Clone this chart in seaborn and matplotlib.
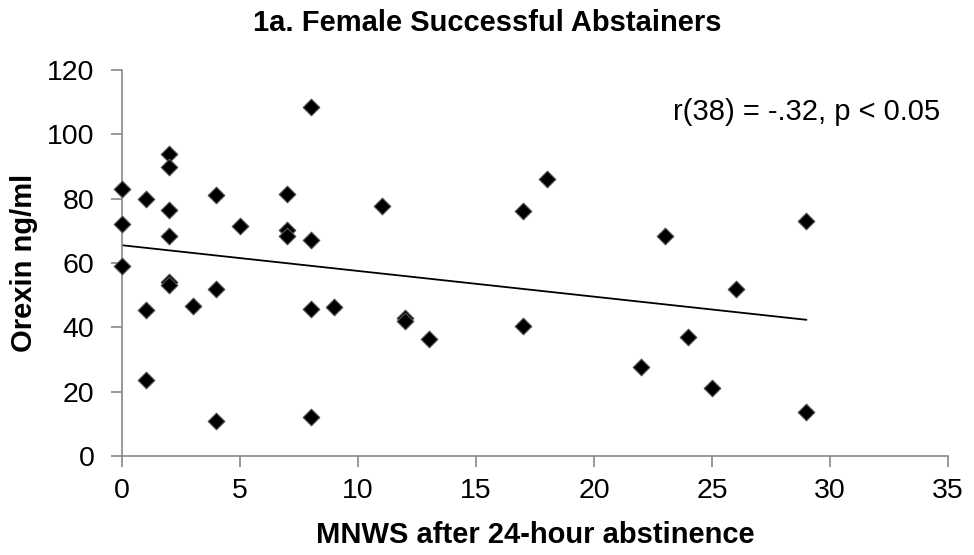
import pandas as pd
import matplotlib.pyplot as plt
import seaborn as sns

# MNWS score and orexin level
mnws = [0, 0, 0,
        1, 1, 1,
        2, 2, 2, 2, 2, 2,
        3,
        4, 4, 4,
        5,
        7, 7, 7,
        8, 8, 8, 8,
        9, 11, 12, 12, 13,
        17, 17, 18,
        22, 23, 24, 25, 26,
        29, 29]
orexin = [83, 72, 59,
          80, 45.5, 23.5,
          94, 89.7, 76.5, 68.5, 54, 53.3,
          46.6,
          81, 52, 11,
          71.5,
          81.5, 70.2, 68.5,
          108.6, 67, 45.6, 12.2,
          46.2, 77.8, 42.8, 42, 36.4,
          76.2, 40.4, 86.2,
          27.8, 68.4, 37.1, 21, 51.8,
          73, 13.6]

df = pd.DataFrame({'mnws': mnws, 'orexin': orexin})

sns.set_theme(style="white")
plt.rcParams['font.family'] = ['Liberation Sans', 'DejaVu Sans']
plt.rcParams['text.color'] = 'black'
plt.rcParams['axes.labelcolor'] = 'black'

f, ax = plt.subplots(figsize=(9.74, 5.55), dpi=100)
sns.regplot(data=df, x='mnws', y='orexin', ci=None, truncate=True, ax=ax, marker='D',
            scatter_kws={'s': 72, 'color': 'black',
                         'edgecolors': '#555555', 'linewidths': 0.8, 'alpha': 1, 'zorder': 3},
            line_kws={'color': 'black', 'linewidth': 1.3, 'zorder': 2})

ax.set_xlim(0, 35)
ax.set_ylim(0, 120)
ax.set_xticks(range(0, 36, 5))
ax.set_yticks(range(0, 121, 20))
ax.tick_params(axis='both', labelsize=20.5, colors='#888888', labelcolor='black',
               direction='out', length=8, width=1.2, bottom=True, left=True)
ax.tick_params(axis='x', pad=8)
ax.tick_params(axis='y', pad=12)
for s in ['top', 'right']:
    ax.spines[s].set_visible(False)
for s in ['left', 'bottom']:
    ax.spines[s].set_color('#888888')
    ax.spines[s].set_linewidth(1.2)
for c in ax.collections:
    c.set_clip_on(False)

ax.set_xlabel('MNWS after 24-hour abstinence', fontsize=21, fontweight='bold', labelpad=12)
ax.set_ylabel('Orexin ng/ml', fontsize=21, fontweight='bold', labelpad=6)
ax.set_title('1a. Female Successful Abstainers', fontsize=21, fontweight='bold', pad=28)
ax.title.set_x((487 - 122) / (948 - 122))
ax.text(34.66, 107, 'r(38) = -.32, p < 0.05', fontsize=21, ha='right', va='center')

f.subplots_adjust(left=0.1253, right=0.9733, top=0.8739, bottom=0.1784)
f.savefig('out.png', dpi=100)
